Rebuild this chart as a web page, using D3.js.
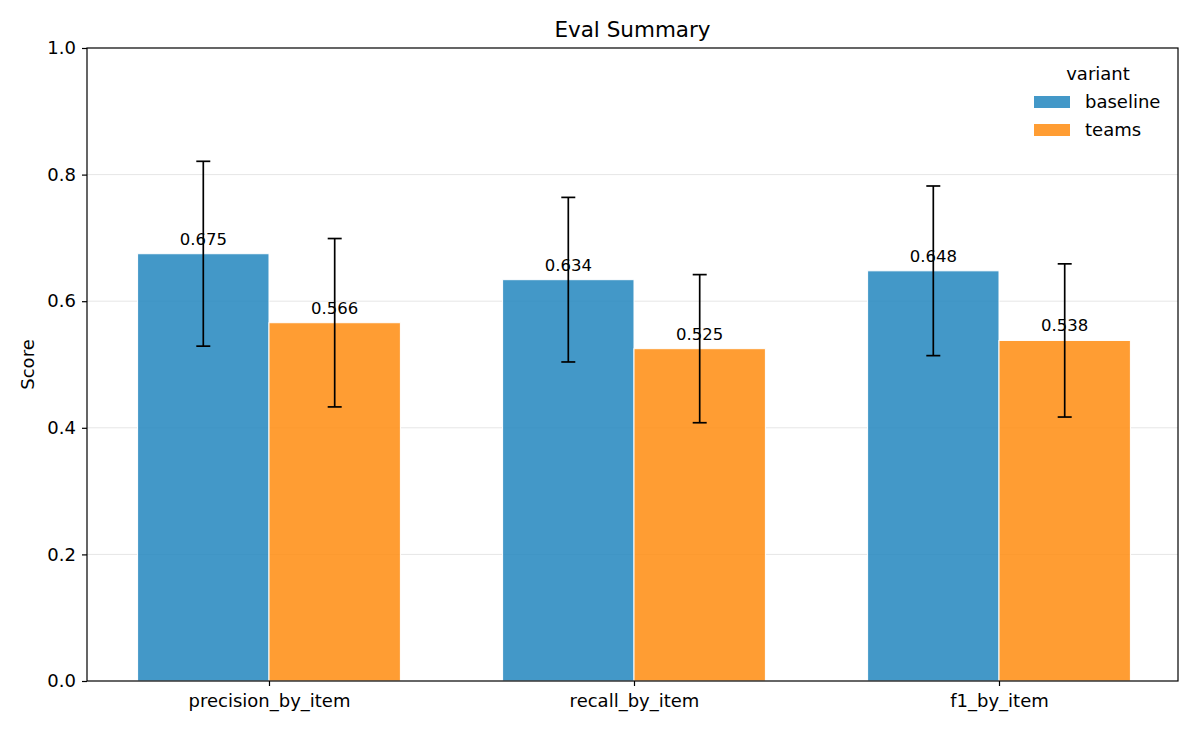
<!DOCTYPE html>
<html>
<head>
<meta charset="utf-8">
<script src="https://cdn.jsdelivr.net/npm/d3@7"></script>
<style>
  body { margin: 0; background: #fff; }
  text { font-family: "DejaVu Sans", sans-serif; fill: #000; }
</style>
</head>
<body>
<svg width="1199" height="733"></svg>
<script>
"use strict";

// DATA
const categories = ["precision_by_item", "recall_by_item", "f1_by_item"];
const variants = ["baseline", "teams"];
const baselineMeans = [0.675, 0.634, 0.648];
const baselineErr = [0.146, 0.13, 0.134];
const teamsMeans = [0.566, 0.525, 0.538];
const teamsErr = [0.133, 0.117, 0.121];
const yTicks = [0.0, 0.2, 0.4, 0.6, 0.8, 1.0];

const colors = { baseline: "#2286be", teams: "#ff8c0f" };

const rows = [];
categories.forEach((c, i) => {
  rows.push({ cat: i, variant: "baseline", mean: baselineMeans[i], err: baselineErr[i] });
  rows.push({ cat: i, variant: "teams", mean: teamsMeans[i], err: teamsErr[i] });
});

const svg = d3.select("svg");
const margin = { top: 48, left: 87, right: 21, bottom: 52 };
const width = +svg.attr("width");
const height = +svg.attr("height");
const innerWidth = width - margin.left - margin.right;
const innerHeight = height - margin.top - margin.bottom;

const barW = 0.36;
const fontTick = "18px";

// x limits a bit tighter than +-0.5 (like matplotlib autoscale here)
const scaleX = d3.scaleLinear().domain([-0.4986, categories.length - 1 + 0.4904]).range([0, innerWidth]);
const scaleY = d3.scaleLinear().domain([0, 1]).range([innerHeight, 0]);

const g = svg.append("g").attr("transform", `translate(${margin.left},${margin.top})`);

// grid
g.selectAll("line.grid")
  .data(yTicks.filter((t) => t > 0 && t < 1))
  .enter()
  .append("line")
  .attr("class", "grid")
  .attr("x1", 0)
  .attr("x2", innerWidth)
  .attr("y1", (d) => scaleY(d))
  .attr("y2", (d) => scaleY(d))
  .attr("stroke", "#e6e6e6")
  .attr("stroke-width", 1);

// bar left edge in data units -> pixels
const xPos = (d) => scaleX(d.cat + (d.variant === "baseline" ? -barW : 0));
const bw = scaleX(barW) - scaleX(0);

// bars
g.selectAll("rect.bar")
  .data(rows)
  .enter()
  .append("rect")
  .attr("class", "bar")
  .attr("x", (d) => xPos(d))
  .attr("y", (d) => scaleY(d.mean))
  .attr("width", bw)
  .attr("height", (d) => innerHeight - scaleY(d.mean))
  .attr("fill", (d) => colors[d.variant])
  .attr("fill-opacity", 0.85)
  .attr("stroke", "#fff")
  .attr("stroke-width", 1);

// error bars
const cx = (d) => xPos(d) + bw / 2;
const errG = g.selectAll("g.err").data(rows).enter().append("g").attr("class", "err");
errG.append("line")
  .attr("x1", cx).attr("x2", cx)
  .attr("y1", (d) => scaleY(d.mean - d.err))
  .attr("y2", (d) => scaleY(d.mean + d.err))
  .attr("stroke", "#000").attr("stroke-width", 1.7);
[1, -1].forEach((s) => {
  errG.append("line")
    .attr("x1", (d) => cx(d) - 7).attr("x2", (d) => cx(d) + 7)
    .attr("y1", (d) => scaleY(d.mean + s * d.err))
    .attr("y2", (d) => scaleY(d.mean + s * d.err))
    .attr("stroke", "#000").attr("stroke-width", 1.7);
});

// value labels
g.selectAll("text.val")
  .data(rows)
  .enter()
  .append("text")
  .attr("class", "val")
  .attr("x", cx)
  .attr("y", (d) => scaleY(d.mean) - 9)
  .attr("text-anchor", "middle")
  .style("font-size", "16.5px")
  .text((d) => d.mean.toFixed(3));

// axes
const yAxis = d3.axisLeft(scaleY).tickValues(yTicks).tickFormat(d3.format(".1f")).tickSize(5).tickPadding(6);
const yG = g.append("g").call(yAxis);
yG.selectAll("text").style("font-size", fontTick).style("font-family", "DejaVu Sans");
yG.selectAll(".tick line").attr("stroke-width", 1.2);

const xAxis = d3.axisBottom(scaleX).tickValues(d3.range(categories.length)).tickFormat((i) => categories[i]).tickSize(5).tickPadding(8);
const xG = g.append("g").attr("transform", `translate(0,${innerHeight})`).call(xAxis);
xG.selectAll("text").style("font-size", fontTick).style("font-family", "DejaVu Sans");
xG.selectAll(".tick line").attr("stroke-width", 1.2);
xG.select(".domain").remove();
yG.select(".domain").remove();

// frame
g.append("rect")
  .attr("width", innerWidth)
  .attr("height", innerHeight)
  .attr("fill", "none")
  .attr("stroke", "#000")
  .attr("stroke-width", 1.2);

// title + y label
svg.append("text")
  .attr("x", margin.left + innerWidth / 2)
  .attr("y", 37)
  .attr("text-anchor", "middle")
  .style("font-size", "21.5px")
  .text("Eval Summary");

svg.append("text")
  .attr("transform", `translate(34,${margin.top + innerHeight / 2}) rotate(-90)`)
  .attr("text-anchor", "middle")
  .style("font-size", fontTick)
  .text("Score");

// legend
const legend = svg.append("g").attr("transform", "translate(1034,0)");
legend.append("text")
  .attr("x", 64)
  .attr("y", 80)
  .attr("text-anchor", "middle")
  .style("font-size", fontTick)
  .text("variant");
const item = legend.selectAll("g.item")
  .data(variants)
  .enter()
  .append("g")
  .attr("class", "item")
  .attr("transform", (d, i) => `translate(0,${96 + i * 28})`);
item.append("rect")
  .attr("width", 36)
  .attr("height", 12)
  .attr("fill", (d) => colors[d])
  .attr("fill-opacity", 0.85);
item.append("text")
  .attr("x", 51)
  .attr("y", 12)
  .style("font-size", fontTick)
  .text((d) => d);
</script>
</body>
</html>
